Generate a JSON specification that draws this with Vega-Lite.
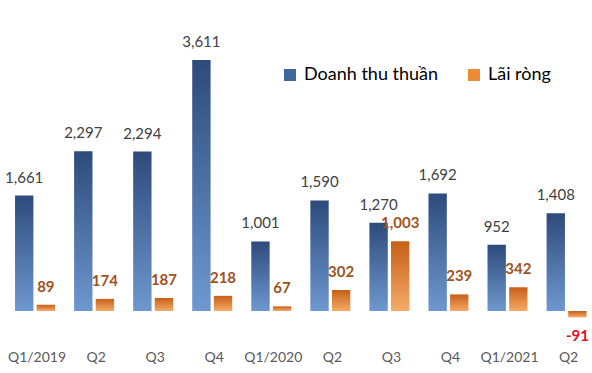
{
  "$schema": "https://vega.github.io/schema/vega-lite/v6.json",
  "width": 592,
  "height": 340,
  "autosize": {"type": "none"},
  "padding": {"left": 0, "top": 0, "right": 0, "bottom": 33},
  "background": "white",
  "config": {
    "view": {"stroke": null},
    "font": "Lato",
    "legend": {
      "orient": "none",
      "legendX": 281,
      "legendY": 66,
      "direction": "horizontal",
      "labelFont": "Lato",
      "labelFontSize": 18,
      "labelColor": "#000000",
      "symbolType": "square",
      "symbolSize": 144,
      "symbolOpacity": 1,
      "symbolStrokeWidth": 0,
      "labelOffset": 5,
      "columnPadding": 26
    }
  },
  "data": {
    "values": [
      {"q": "Q1/2019", "s": "Doanh thu thuần", "v": 1661},
      {"q": "Q1/2019", "s": "Lãi ròng", "v": 89},
      {"q": "Q2/2019", "s": "Doanh thu thuần", "v": 2297},
      {"q": "Q2/2019", "s": "Lãi ròng", "v": 174},
      {"q": "Q3/2019", "s": "Doanh thu thuần", "v": 2294},
      {"q": "Q3/2019", "s": "Lãi ròng", "v": 187},
      {"q": "Q4/2019", "s": "Doanh thu thuần", "v": 3611},
      {"q": "Q4/2019", "s": "Lãi ròng", "v": 218},
      {"q": "Q1/2020", "s": "Doanh thu thuần", "v": 1001},
      {"q": "Q1/2020", "s": "Lãi ròng", "v": 67},
      {"q": "Q2/2020", "s": "Doanh thu thuần", "v": 1590},
      {"q": "Q2/2020", "s": "Lãi ròng", "v": 302},
      {"q": "Q3/2020", "s": "Doanh thu thuần", "v": 1270},
      {"q": "Q3/2020", "s": "Lãi ròng", "v": 1003},
      {"q": "Q4/2020", "s": "Doanh thu thuần", "v": 1692},
      {"q": "Q4/2020", "s": "Lãi ròng", "v": 239},
      {"q": "Q1/2021", "s": "Doanh thu thuần", "v": 952},
      {"q": "Q1/2021", "s": "Lãi ròng", "v": 342},
      {"q": "Q2/2021", "s": "Doanh thu thuần", "v": 1408},
      {"q": "Q2/2021", "s": "Lãi ròng", "v": -91}
    ]
  },
  "encoding": {
    "x": {
      "field": "q",
      "type": "nominal",
      "sort": null,
      "scale": {"range": [5.5, 596.1], "paddingInner": 0.323, "paddingOuter": 0.1615},
      "axis": {
        "title": null,
        "domain": false,
        "ticks": false,
        "labelAngle": 0,
        "labelFont": "Lato",
        "labelFontSize": 14,
        "labelColor": "#595959",
        "labelPadding": 10,
        "labelOffset": 2,
        "labelExpr": "indexof(datum.value, 'Q1') === 0 ? datum.value : substring(datum.value, 0, 2)"
      }
    },
    "xOffset": {
      "field": "s",
      "type": "nominal",
      "scale": {"domain": ["Doanh thu thuần", "Lãi ròng"], "paddingInner": 0.15, "paddingOuter": 0}
    },
    "y": {
      "field": "v",
      "type": "quantitative",
      "scale": {"domain": [-417, 4474], "nice": false},
      "axis": null
    }
  },
  "layer": [
    {
      "transform": [{"filter": "datum.s === 'Doanh thu thuần'"}],
      "mark": {
        "type": "bar",
        "fill": {
          "gradient": "linear", "x1": 0, "y1": 0, "x2": 0, "y2": 1,
          "stops": [{"offset": 0, "color": "#2D4B7B"}, {"offset": 1, "color": "#6E98D0"}]
        }
      }
    },
    {
      "transform": [{"filter": "datum.s === 'Lãi ròng'"}],
      "mark": {
        "type": "bar",
        "fill": {
          "gradient": "linear", "x1": 0, "y1": 0, "x2": 0, "y2": 1,
          "stops": [{"offset": 0, "color": "#C65F17"}, {"offset": 1, "color": "#F6AA68"}]
        }
      }
    },
    {
      "mark": {"type": "point", "shape": "square", "filled": true, "opacity": 0},
      "encoding": {
        "color": {
          "field": "s",
          "type": "nominal",
          "scale": {"domain": ["Doanh thu thuần", "Lãi ròng"], "range": ["#41679F", "#EC8A36"]},
          "legend": {"title": null}
        }
      }
    },
    {
      "transform": [{"filter": "datum.s === 'Doanh thu thuần'"}],
      "mark": {"type": "text", "dy": -13, "baseline": "alphabetic", "fontSize": 15, "font": "Lato", "color": "#404040"},
      "encoding": {"text": {"field": "v", "type": "quantitative", "format": ","}}
    },
    {
      "transform": [{"filter": "datum.s === 'Lãi ròng' && datum.v > 0"}],
      "mark": {"type": "text", "dy": -13, "baseline": "alphabetic", "fontSize": 15, "font": "Lato", "fontWeight": "bold", "color": "#9E531C"},
      "encoding": {"text": {"field": "v", "type": "quantitative", "format": ","}}
    },
    {
      "transform": [{"filter": "datum.s === 'Lãi ròng' && datum.v < 0"}],
      "mark": {"type": "text", "dy": 24, "baseline": "alphabetic", "fontSize": 15, "font": "Lato", "fontWeight": "bold", "color": "#E3101B"},
      "encoding": {"text": {"field": "v", "type": "nominal"}}
    }
  ]
}
